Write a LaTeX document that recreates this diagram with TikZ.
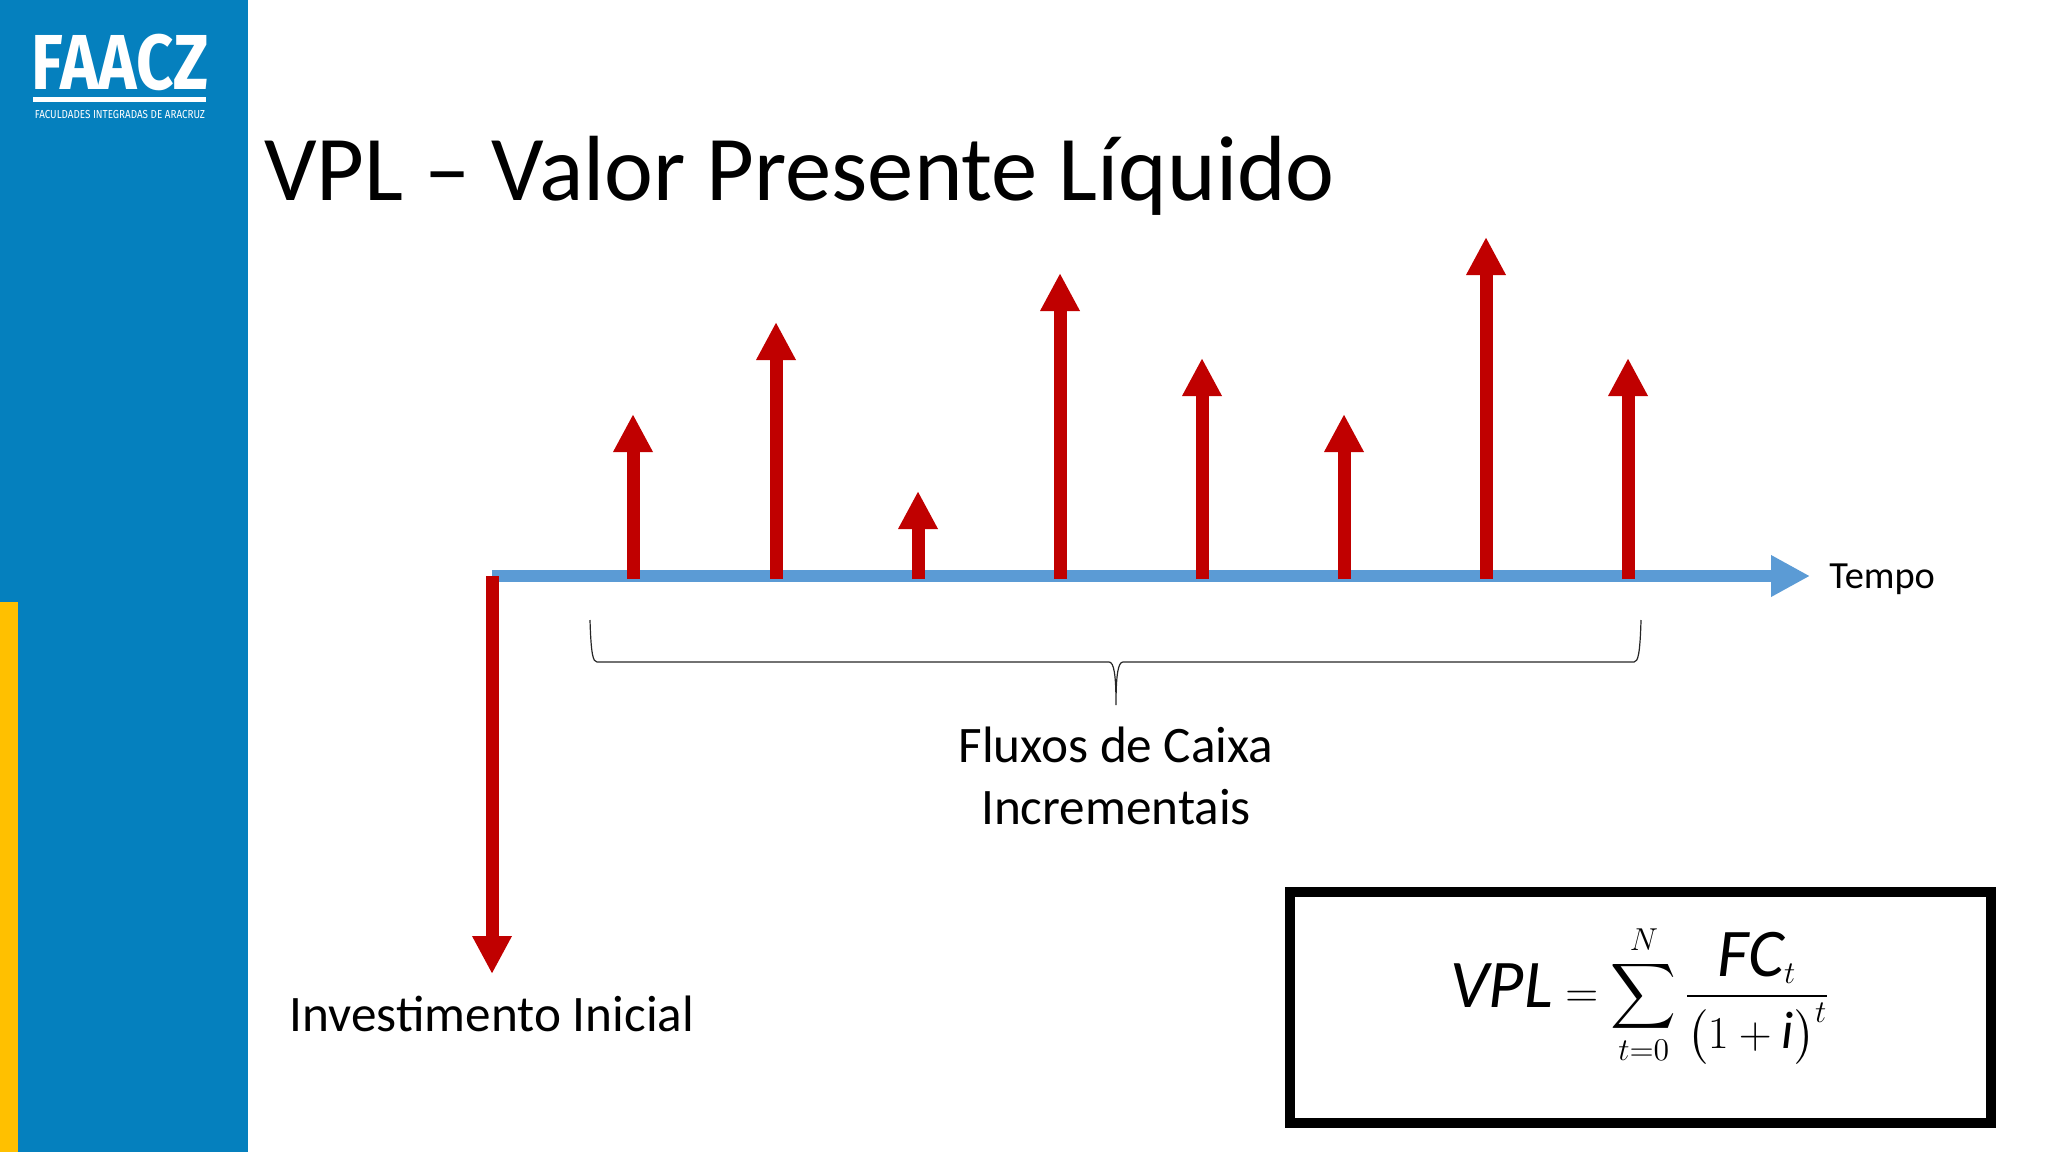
\documentclass[tikz,border=0pt]{standalone}
\usepackage{amsmath}
\usepackage{fontspec}
\setmainfont{Carlito}
\newfontfamily\logofont{Fira Sans}
\usetikzlibrary{positioning,calc,arrows.meta}
\definecolor{faixa}{HTML}{0580BE}
\definecolor{amarelo}{HTML}{FFC000}
\definecolor{vermelho}{HTML}{C00000}
\definecolor{azul}{HTML}{5B9BD5}
\newcommand{\tvar}[2][31]{\text{\fontsize{#1}{#1}\selectfont\itshape #2}}
\tikzset{
fluxo/.style={vermelho,line width=6.5pt,-{Triangle[length=19pt,width=18.5pt]}},
eixo/.style={azul,line width=6.3pt,-{Triangle[length=19.5pt,width=19.5pt]}},
chave/.style={draw=black!85,line width=0.6pt},
texto/.style={inner sep=0pt,font=\fontsize{25.6}{31}\selectfont,align=center},
}

\begin{document}
\begin{tikzpicture}[x=0.5pt,y=-0.5pt]
    \useasboundingbox (0,0) rectangle (2048,1152);
    \fill [faixa] (0,0) rectangle (248,1152);
    \fill [amarelo] (0,602) rectangle (18,1152);
    % logo
    \node [anchor=base,inner sep=0pt,white,xscale=.835] (logo) at (120,89)
        {\logofont\bfseries\fontsize{39}{39}\selectfont FAACZ};
    \fill [white] (33,97) rectangle (206,102);
    \node [anchor=base,inner sep=0pt,white,xscale=.85] (sublogo) at (120,118)
        {\logofont\fontsize{5.8}{6}\selectfont FACULDADES INTEGRADAS DE ARACRUZ};
    % titulo
    \node [anchor=base west,inner sep=0pt,font=\fontsize{46.3}{50}\selectfont] (titulo) at (264,200)
        {VPL -- Valor Presente Líquido};
    % eixo do tempo
    \coordinate (ini) at (492,576);
    \coordinate (fim) at (1810,576);
    \draw [eixo] (ini) -- (fim);
    \node [right=9.5pt of fim,yshift=-1.5pt,inner sep=0pt,font=\fontsize{19.2}{23}\selectfont] (tempo) {Tempo};
    % investimento
    \coordinate (inv) at (492,974);
    \draw [fluxo] (ini) -- (inv);
    \node [texto,below=11pt of inv] (investimento) {Investimento Inicial};
    % fluxos
    \foreach \i/\x/\y in {1/633/414, 2/776/322, 3/918/491, 4/1060/273, 5/1202/358, 6/1344/414, 7/1486/237, 8/1628/358}
    {
        \coordinate (b\i) at (\x,579);
        \coordinate (t\i) at (\x,\y);
        \draw [fluxo] (b\i) -- (t\i);
    }
    % chave
    \coordinate (c1) at (590,620);
    \coordinate (c2) at (1641,620);
    \coordinate (cm) at (1116,705);
    \draw [chave] (c1) .. controls ($(c1)+(1,34)$) and ($(c1)+(3,42)$) .. ($(c1)+(7,42)$)
        -- ($(cm)+(-7,-43)$) .. controls ($(cm)+(-2,-43)$) and ($(cm)+(0,-30)$) .. (cm)
        .. controls ($(cm)+(0,-30)$) and ($(cm)+(2,-43)$) .. ($(cm)+(7,-43)$)
        -- ($(c2)+(-7,42)$) .. controls ($(c2)+(-3,42)$) and ($(c2)+(-1,34)$) .. (c2);
    \node [texto,below=11pt of cm] (fluxos) {Fluxos de Caixa\\Incrementais};
    % formula
    \draw [black,line width=5.25pt] (1290,892) rectangle (1991,1123);
    \node [inner sep=0pt,scale=1.1,font=\fontsize{22.5}{27}\selectfont] (vpl) at (1640,995)
        {$\tvar{VPL} = \displaystyle\sum_{t=0}^{N} \frac{\tvar{FC}_{t}}{\big(1+\tvar[24]{i}\big)^{t}}$};
\end{tikzpicture}
\end{document}
